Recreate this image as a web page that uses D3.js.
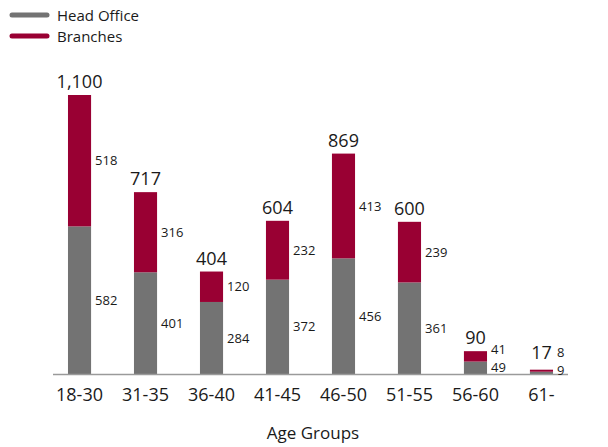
<!DOCTYPE html>
<html>
<head>
<meta charset="utf-8">
<script src="https://cdn.jsdelivr.net/npm/d3@7"></script>
<style>
  body { margin: 0; background: #fff; }
  svg text { font-family: "Open Sans", "Noto Sans", sans-serif; fill: #1a1a1a; }
</style>
</head>
<body>
<svg id="chart" width="608" height="447"></svg>
<script>
// datos
const ageGroups = ['18-30', '31-35', '36-40', '41-45', '46-50', '51-55', '56-60', '61-'];
const headOffice = [582, 401, 284, 372, 456, 361, 49, 9];
const branches = [518, 316, 120, 232, 413, 239, 41, 8];
const seriesNames = ['Head Office', 'Branches'];
const colors = ['#737373', '#990033'];

const svg = d3.select('#chart');
const baseY = 374;

const rows = ageGroups.map((g, i) => ({ group: g, 'Head Office': headOffice[i], 'Branches': branches[i] }));
const stack = d3.stack().keys(seriesNames)(rows);

const x = d3.scaleBand().domain(ageGroups).range([53, 568])
  .paddingInner(0.65).paddingOuter(0.227);
const y = d3.scaleLinear().domain([0, 1100]).range([baseY, 95]);

// barras apiladas
stack.forEach((layer, li) => {
  svg.append('g').selectAll('rect')
    .data(layer)
    .join('rect')
    .attr('x', d => x(d.data.group))
    .attr('width', x.bandwidth())
    .attr('y', d => y(d[1]))
    .attr('height', d => y(d[0]) - y(d[1]))
    .attr('fill', colors[li]);
});

// eje X (línea + etiquetas)
svg.append('line')
  .attr('x1', 53).attr('x2', 568)
  .attr('y1', baseY + 0.5).attr('y2', baseY + 0.5)
  .attr('stroke', '#9a9a9a').attr('stroke-width', 1.5);

svg.append('g').selectAll('text')
  .data(ageGroups)
  .join('text')
  .attr('x', d => x(d) + x.bandwidth() / 2)
  .attr('y', 401)
  .attr('text-anchor', 'middle')
  .attr('font-size', 18)
  .text(d => d);

svg.append('text')
  .attr('x', 313).attr('y', 439)
  .attr('text-anchor', 'middle')
  .attr('font-size', 17)
  .text('Age Groups');

// etiquetas de segmentos y totales
rows.forEach((r, i) => {
  const bx = x(r.group);
  const cx = bx + x.bandwidth() / 2;
  // centro de cada segmento, con separación mínima
  let hoY = Math.min(y(r['Head Office'] / 2), baseY - 4);
  let brY = y(r['Head Office'] + r['Branches'] / 2);
  if (hoY - brY < 18) brY = hoY - 18;

  [[r['Head Office'], hoY], [r['Branches'], brY]].forEach(([v, cy]) => {
    svg.append('text')
      .attr('x', bx + x.bandwidth() + 4)
      .attr('y', cy)
      .attr('dy', '0.35em')
      .attr('font-size', 13)
      .text(v);
  });

  const total = r['Head Office'] + r['Branches'];
  const top = Math.min(y(total), brY + 14);
  svg.append('text')
    .attr('x', cx)
    .attr('y', top - 7)
    .attr('text-anchor', 'middle')
    .attr('font-size', 18)
    .text(d3.format(',')(total));
});

// leyenda
const legend = svg.append('g');
seriesNames.forEach((name, i) => {
  const ly = 15 + i * 21;
  legend.append('line')
    .attr('x1', 12).attr('x2', 47)
    .attr('y1', ly).attr('y2', ly)
    .attr('stroke', colors[i]).attr('stroke-width', 5)
    .attr('stroke-linecap', 'round');
  legend.append('text')
    .attr('x', 57).attr('y', ly + 6)
    .attr('font-size', 15)
    .text(name);
});
</script>
</body>
</html>
